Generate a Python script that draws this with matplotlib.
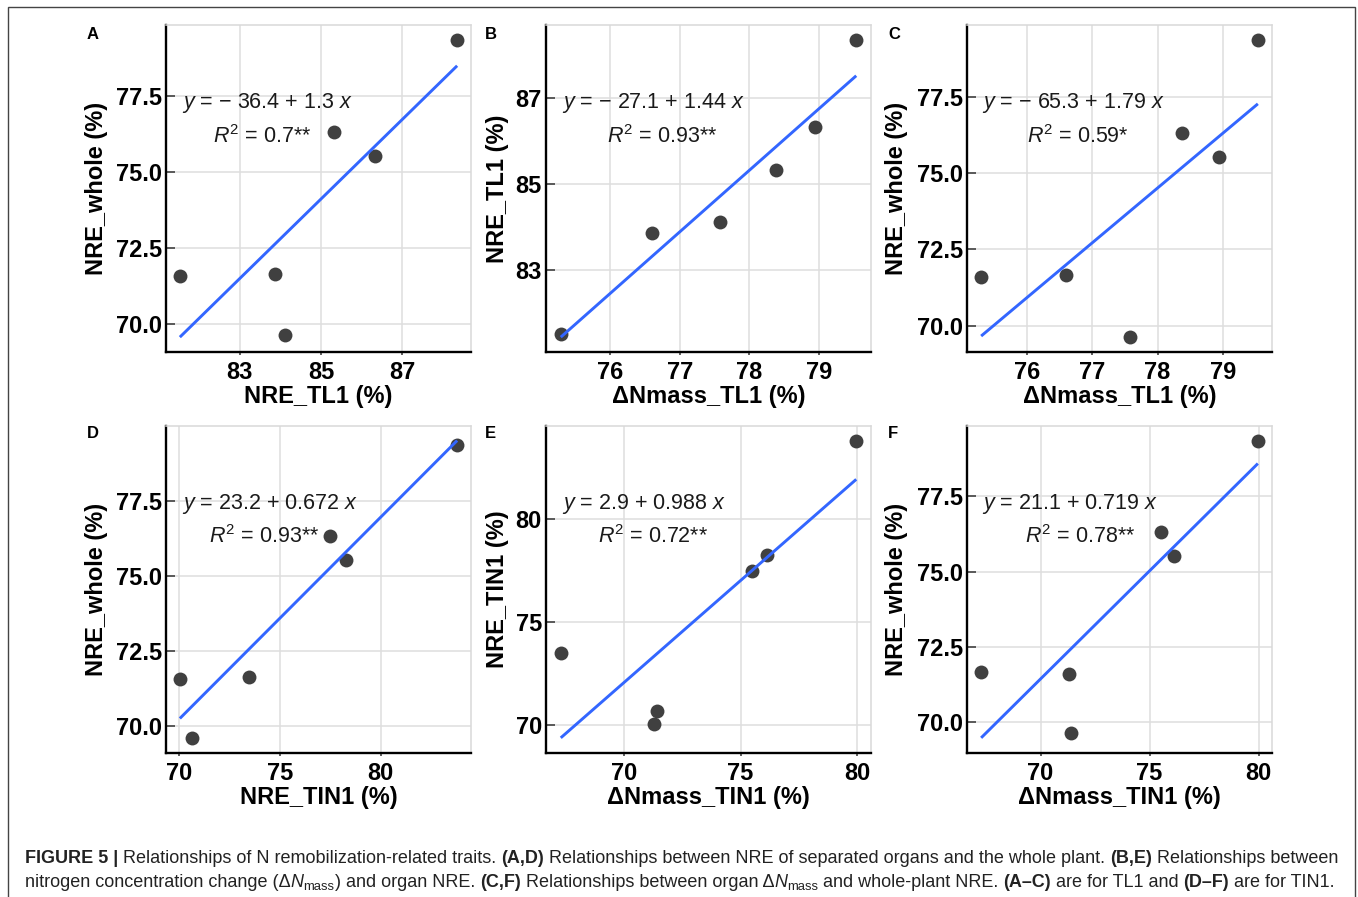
import numpy as np
import matplotlib
matplotlib.use('Agg')
import matplotlib.pyplot as plt
from matplotlib.patches import Rectangle
from matplotlib.transforms import IdentityTransform
from matplotlib import font_manager

# ---------------- data ----------------
nre_whole = [71.59, 71.65, 69.62, 76.32, 75.53, 79.36]
nre_tl1 = [81.52, 83.87, 84.12, 85.32, 86.34, 88.36]
dn_tl1 = [75.29, 76.60, 77.58, 78.38, 78.95, 79.54]
nre_tin1 = [70.05, 73.50, 70.67, 77.48, 78.27, 83.80]
dn_tin1 = [71.29, 67.27, 71.40, 75.51, 76.13, 79.97]

panel_letters = ['A', 'B', 'C', 'D', 'E', 'F']
x_data = [nre_tl1, dn_tl1, dn_tl1, nre_tin1, dn_tin1, dn_tin1]
y_data = [nre_whole, nre_tl1, nre_whole, nre_whole, nre_tin1, nre_whole]
x_labels = ['NRE_TL1 (%)', 'ΔNmass_TL1 (%)', 'ΔNmass_TL1 (%)',
            'NRE_TIN1 (%)', 'ΔNmass_TIN1 (%)', 'ΔNmass_TIN1 (%)']
y_labels = ['NRE_whole (%)', 'NRE_TL1 (%)', 'NRE_whole (%)',
            'NRE_whole (%)', 'NRE_TIN1 (%)', 'NRE_whole (%)']
eq_intercepts = ['− 36.4', '− 27.1', '− 65.3', '23.2', '2.9', '21.1']
eq_slopes = ['1.3', '1.44', '1.79', '0.672', '0.988', '0.719']
r2_texts = ['0.7**', '0.93**', '0.59*', '0.93**', '0.72**', '0.78**']
x_ticks = [[83, 85, 87], [76, 77, 78, 79], [76, 77, 78, 79],
           [70, 75, 80], [70, 75, 80], [70, 75, 80]]
y_ticks = [[70.0, 72.5, 75.0, 77.5], [83, 85, 87], [70.0, 72.5, 75.0, 77.5],
           [70.0, 72.5, 75.0, 77.5], [70, 75, 80], [70.0, 72.5, 75.0, 77.5]]
y_fmt = ['{:.1f}', '{:.0f}', '{:.1f}', '{:.1f}', '{:.0f}', '{:.1f}']

# ---------------- style ----------------
plt.rcParams['font.family'] = ['Liberation Sans', 'DejaVu Sans']
plt.rcParams['mathtext.fontset'] = 'custom'
plt.rcParams['mathtext.rm'] = 'Liberation Sans'
plt.rcParams['mathtext.it'] = 'Liberation Sans:italic'
plt.rcParams['mathtext.bf'] = 'Liberation Sans:bold'

W, H = 1358, 897
fig = plt.figure(figsize=(W / 100, H / 100), dpi=100)
fig.patch.set_facecolor('white')

col_left = [166, 546, 967.3]
col_w = [305, 325, 304.4]
row_top = [25, 425.7]
ax_h = 327
ylab_x = [-0.2295, -0.150, -0.232]
eq_x = [0.052, 0.048, 0.047]
r2_x = [[0.154, 0.187, 0.195], [0.141, 0.161, 0.19]]
letter_x = [87, 485, 888.3]
letter_base = [39.3, 438.3]

TICK_FS = 17
LAB_FS = 17
EQ_FS = 15.5

for i in range(6):
    r, c = divmod(i, 3)
    left = col_left[c] / W
    bottom = (H - row_top[r] - ax_h) / H
    ax = fig.add_axes([left, bottom, col_w[c] / W, ax_h / H])
    xd = np.array(x_data[i]); yd = np.array(y_data[i])
    ax.scatter(xd, yd, s=100, color='#404040', linewidths=0, zorder=3)
    k, b0 = np.polyfit(xd, yd, 1)
    xs = np.array([xd.min(), xd.max()])
    ys = b0 + k * xs
    ax.plot(xs, ys, color='#3366FF', lw=2.1, zorder=4, solid_capstyle='butt')
    ylo = min(yd.min(), ys.min()); yhi = max(yd.max(), ys.max())
    xspan = xd.max() - xd.min(); yspan = yhi - ylo
    ax.set_xlim(xd.min() - 0.05 * xspan, xd.max() + 0.05 * xspan)
    ax.set_ylim(ylo - 0.05 * yspan, yhi + 0.05 * yspan)
    ax.set_xticks(x_ticks[i])
    ax.set_xticklabels([str(t) for t in x_ticks[i]], fontweight='bold',
                       fontsize=TICK_FS)
    ax.set_yticks(y_ticks[i])
    ax.set_yticklabels([y_fmt[i].format(t) for t in y_ticks[i]],
                       fontweight='bold', fontsize=TICK_FS)
    ax.tick_params(axis='y', direction='in', length=6.5, width=1.1,
                   color='#333333', pad=3)
    ax.tick_params(axis='x', direction='out', length=2.5, width=1.1,
                   color='#333333', pad=4)
    ax.grid(True, color='#DEDEDE', lw=1.1)
    ax.set_axisbelow(True)
    for s in ['left', 'bottom']:
        ax.spines[s].set_color('black'); ax.spines[s].set_linewidth(1.7)
    for s in ['top', 'right']:
        ax.spines[s].set_color('#D9D9D9'); ax.spines[s].set_linewidth(1.1)
    # axis titles
    ax.text(0.5, -0.157, x_labels[i], transform=ax.transAxes, ha='center',
            va='baseline', fontsize=LAB_FS, fontweight='bold')
    ax.text(ylab_x[c], 0.5, y_labels[i], transform=ax.transAxes, ha='center',
            va='center', rotation=90, fontsize=LAB_FS, fontweight='bold')
    # equations
    eq = r'$\mathit{y}$ = ' + eq_intercepts[i] + ' + ' + eq_slopes[i] + r' $\mathit{x}$'
    ax.text(eq_x[c], 0.745, eq, transform=ax.transAxes, ha='left',
            va='baseline', fontsize=EQ_FS, color='#1a1a1a', zorder=5)
    ax.text(r2_x[r][c], 0.640, r'$\mathit{R}^{2}$ = ' + r2_texts[i],
            transform=ax.transAxes, ha='left', va='baseline',
            fontsize=EQ_FS, color='#1a1a1a', zorder=5)
    # panel letter
    fig.text(letter_x[c] / W, (H - letter_base[r]) / H, panel_letters[i],
             ha='left', va='baseline', fontsize=12, fontweight='bold')

# border
fig.add_artist(Rectangle((7.5 / W, -0.02), (1355 - 7.5) / W,
                         (H - 6.7) / H + 0.02, transform=fig.transFigure,
                         fill=False, ec='#444444', lw=1.0))

# ---------------- caption ----------------
try:
    font_manager.findfont('Liberation Sans Narrow', fallback_to_default=False)
    cap_family = ['Liberation Sans Narrow', 'DejaVu Sans']
except Exception:
    cap_family = ['Liberation Sans', 'DejaVu Sans']

line1 = [("FIGURE 5 |", 'bold', 'normal', 0),
         (" Relationships of N remobilization-related traits. ", 'normal', 'normal', 0),
         ("(A,D)", 'bold', 'normal', 0),
         (" Relationships between NRE of separated organs and the whole plant. ", 'normal', 'normal', 0),
         ("(B,E)", 'bold', 'normal', 0),
         (" Relationships between", 'normal', 'normal', 0)]
line2 = [("nitrogen concentration change (Δ", 'normal', 'normal', 0),
         ("N", 'normal', 'italic', 0),
         ("mass", 'normal', 'normal', 1),
         (") and organ NRE. ", 'normal', 'normal', 0),
         ("(C,F)", 'bold', 'normal', 0),
         (" Relationships between organ Δ", 'normal', 'normal', 0),
         ("N", 'normal', 'italic', 0),
         ("mass", 'normal', 'normal', 1),
         (" and whole-plant NRE. ", 'normal', 'normal', 0),
         ("(A–C)", 'bold', 'normal', 0),
         (" are for TL1 and ", 'normal', 'normal', 0),
         ("(D–F)", 'bold', 'normal', 0),
         (" are for TIN1.", 'normal', 'normal', 0)]

renderer = fig.canvas.get_renderer()


def measure(txt, fs, weight='normal', style='normal'):
    t = fig.text(0, 0, txt, fontsize=fs, fontweight=weight, fontstyle=style,
                 family=cap_family, transform=IdentityTransform())
    w = t.get_window_extent(renderer).width
    t.remove()
    return w


def draw_line(segs, x0, y0, fs, draw=True):
    x = x0
    created = []
    for txt, wt, st, sub in segs:
        size = fs * 0.72 if sub else fs
        dy = -3.5 if sub else 0
        sp = measure('x x', size, wt, st) - measure('xx', size, wt, st)
        lead = len(txt) - len(txt.lstrip(' '))
        trail = len(txt) - len(txt.rstrip(' '))
        core = txt.strip(' ')
        x += lead * sp
        t = fig.text(x, y0 + dy, core, fontsize=size, fontweight=wt,
                     fontstyle=st, family=cap_family, color='#222222',
                     transform=IdentityTransform(), ha='left', va='baseline')
        bb = t.get_window_extent(renderer)
        x = bb.x1 + trail * sp
        created.append(t)
    if not draw:
        for t in created:
            t.remove()
    return x - x0


cap_fs = 12.7
w1 = draw_line(line1, 25, H - 862.7, cap_fs, draw=False)
cap_fs = cap_fs * 1313.0 / w1
draw_line(line1, 25, H - 862.7, cap_fs)
draw_line(line2, 25, H - 886.5, cap_fs)

fig.savefig('out.png', dpi=100, facecolor='white')
